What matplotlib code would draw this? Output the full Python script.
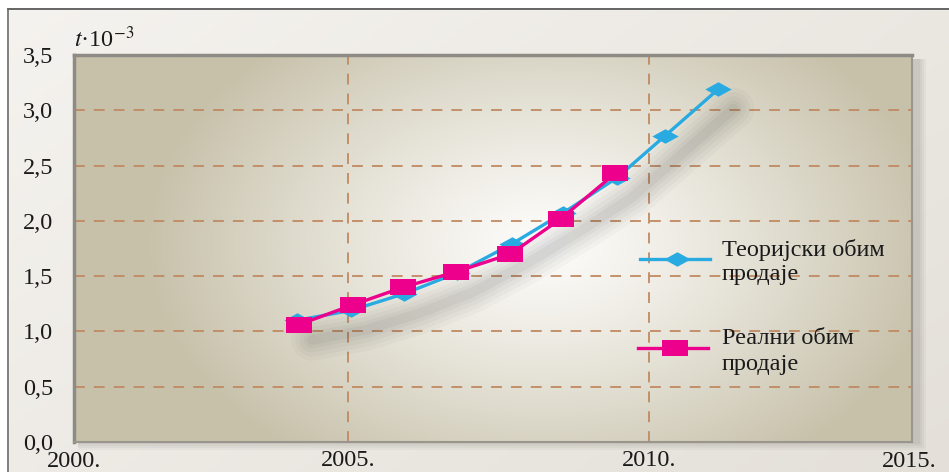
import numpy as np
import matplotlib
matplotlib.use("Agg")
import matplotlib.pyplot as plt
from matplotlib.path import Path
from matplotlib.lines import Line2D
import matplotlib.transforms as mtransforms

plt.rcParams['font.family'] = ['Liberation Serif', 'DejaVu Serif']
plt.rcParams['mathtext.fontset'] = 'stix'

# ---- data ----
theor_years = [2004.15, 2005.05, 2005.93, 2006.82, 2007.72, 2008.57, 2009.47, 2010.27, 2011.15]
theor_values = [1.10, 1.19, 1.34, 1.53, 1.79, 2.07, 2.39, 2.77, 3.19]
real_years = [2004.18, 2005.08, 2005.92, 2006.80, 2007.70, 2008.54, 2009.44]
real_values = [1.06, 1.24, 1.40, 1.54, 1.70, 2.02, 2.43]
y_ticks = [0.0, 0.5, 1.0, 1.5, 2.0, 2.5, 3.0, 3.5]
y_tick_labels = ['0,0', '0,5', '1,0', '1,5', '2,0', '2,5', '3,0', '3,5']
x_ticks = [2005, 2010]
x_tick_labels = ['2005.', '2010.']
x_edge_labels = ['2000.', '2015.']
label_theor = 'Теоријски обим\nпродаје'
label_real = 'Реални обим\nпродаје'
y_label = r'$t$·10$^{-3}$'

FS = 17.5
W, H = 949, 472
fig = plt.figure(figsize=(W / 100, H / 100), dpi=100)

# ---- figure background ----
bg = fig.add_axes([0, 0, 1, 1], zorder=-10)
bg.set_axis_off()
gx, gy = np.meshgrid(np.linspace(0, 1, 300), np.linspace(0, 1, 150))
t = np.clip(0.6 * gx + 0.4 * gy, 0, 1)
c0 = np.array([245, 243, 239]) / 255
c1 = np.array([228, 224, 217]) / 255
img = c0[None, None, :] * (1 - t[..., None]) + c1[None, None, :] * t[..., None]
bg.imshow(img, extent=(0, W, H, 0), aspect='auto', zorder=0)
bg.set_xlim(0, W)
bg.set_ylim(H, 0)
bg.add_patch(plt.Rectangle((0, 0), W, 9, color='white', zorder=1))
bg.add_patch(plt.Rectangle((0, 0), 8, H, color='white', zorder=1))
bg.plot([8, W], [9, 9], color='#4a4a4a', lw=1.2, zorder=2)
bg.plot([8, 8], [9, H], color='#6a6a6a', lw=1.2, zorder=2)
# panel drop shadow
for i, a in enumerate([0.05, 0.05, 0.06, 0.07]):
    d = 10 - 2 * i
    bg.add_patch(plt.Rectangle((74 + 4, 55 + 4), 838 + d, 387 + d - 6,
                               color='#5a5650', alpha=a, lw=0, zorder=1.5))

# ---- main axes ----
ax = fig.add_axes([74 / W, 1 - 442 / H, 838 / W, 387 / H])
xlim = (2000.45, 2014.37)
ylim = (0, 3.5)
ax.set_xlim(*xlim)
ax.set_ylim(*ylim)

# panel gradient
nx, ny = 420, 200
px, py = np.meshgrid(np.linspace(0, 838, nx), np.linspace(0, 389, ny))
cx, cy = 470, 190
r = np.sqrt(((px - cx) / 400) ** 2 + ((py - cy) / 270) ** 2)
tt = np.clip(r, 0, 1) ** 1.2
cin = np.array([253, 252, 250]) / 255
cout = np.array([199, 193, 170]) / 255
pimg = cin[None, None, :] * (1 - tt[..., None]) + cout[None, None, :] * tt[..., None]
ax.imshow(pimg, extent=(xlim[0], xlim[1], ylim[0], ylim[1]), aspect='auto',
          origin='upper', zorder=0)

for s in ['right', 'bottom']:
    ax.spines[s].set_color('#9a958d')
    ax.spines[s].set_linewidth(1.5)
for s in ['top', 'left']:
    ax.spines[s].set_color('#8e8a84')
    ax.spines[s].set_linewidth(2.5)

grid_kw = dict(color='#c08a62', lw=1.3, dashes=(6, 5), zorder=1)
for yv in y_ticks[1:-1]:
    ax.axhline(yv, **grid_kw)
for xv in x_ticks:
    ax.axvline(xv, **grid_kw)

ax.set_yticks(y_ticks)
ax.set_yticklabels(y_tick_labels)
ax.set_xticks(x_ticks)
ax.set_xticklabels(x_tick_labels)
ax.tick_params(axis='both', length=0, labelsize=FS, colors='#1a1a1a')
ax.tick_params(axis='y', pad=15)
ax.tick_params(axis='x', pad=6)
ax.text(0.0, -0.022, x_edge_labels[0], transform=ax.transAxes, ha='center', va='top',
        fontsize=FS, color='#1a1a1a')
ax.text(0.997, -0.022, x_edge_labels[1], transform=ax.transAxes, ha='center', va='top',
        fontsize=FS, color='#1a1a1a')
ax.text(0.0, 1.008, y_label, transform=ax.transAxes, ha='left', va='bottom',
        fontsize=FS, color='#1a1a1a')

# markers
diamond = Path([(-1, 0), (0, 0.55), (1, 0), (0, -0.55), (-1, 0)],
               [Path.MOVETO, Path.LINETO, Path.LINETO, Path.LINETO, Path.CLOSEPOLY])
rect = Path([(-1, -0.62), (1, -0.62), (1, 0.62), (-1, 0.62), (-1, -0.62)],
            [Path.MOVETO, Path.LINETO, Path.LINETO, Path.LINETO, Path.CLOSEPOLY])

blue = '#29abe2'
pink = '#ec008c'

# soft shadows
shadow_tr = mtransforms.offset_copy(ax.transData, fig=fig, x=11, y=-14, units='points')
for lw, a in [(30, 0.03), (24, 0.035), (18, 0.04), (12, 0.045), (7, 0.05)]:
    ax.plot(theor_years, theor_values, color='#3a3a3a', lw=lw, alpha=a,
            solid_capstyle='round', solid_joinstyle='round', transform=shadow_tr, zorder=2)

ax.plot(theor_years, theor_values, color=blue, lw=2.4, marker=diamond, markersize=19,
        markeredgewidth=0, zorder=4)
ax.plot(real_years, real_values, color=pink, lw=2.4, marker=rect, markersize=19,
        markeredgewidth=0, zorder=5)

# legend (manual)
ax.add_line(Line2D([0.675, 0.759], [0.473, 0.473], transform=ax.transAxes, color=blue, lw=2.4, zorder=6))
ax.add_line(Line2D([0.72], [0.473], transform=ax.transAxes, color=blue, marker=diamond,
                   markersize=19, markeredgewidth=0, zorder=6))
ax.add_line(Line2D([0.673, 0.757], [0.244, 0.244], transform=ax.transAxes, color=pink, lw=2.4, zorder=6))
ax.add_line(Line2D([0.717], [0.244], transform=ax.transAxes, color=pink, marker=rect,
                   markersize=19, markeredgewidth=0, zorder=6))
ax.text(0.773, 0.466, label_theor, transform=ax.transAxes, ha='left', va='center',
        fontsize=FS, linespacing=1.2, color='#1a1a1a', zorder=7)
ax.text(0.773, 0.234, label_real, transform=ax.transAxes, ha='left', va='center',
        fontsize=FS, linespacing=1.35, color='#1a1a1a', zorder=7)

fig.savefig('out.png', dpi=100)
